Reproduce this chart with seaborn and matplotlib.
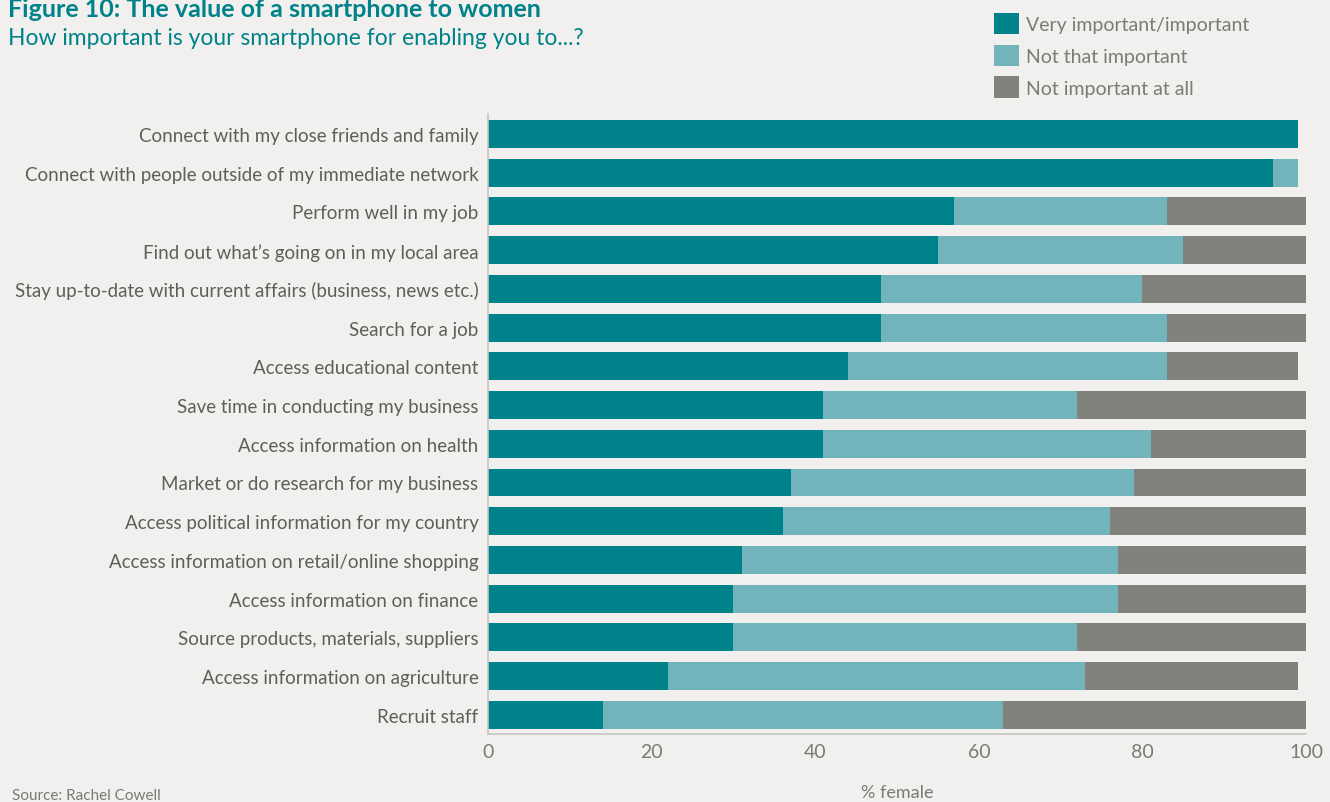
import matplotlib.pyplot as plt
import seaborn as sns
import pandas as pd
from matplotlib.patches import Patch

sns.set_theme(style="white")
plt.rcParams['font.family'] = ['Lato', 'DejaVu Sans']

# Data (percent of women)
categories = [
    "Connect with my close friends and family",
    "Connect with people outside of my immediate network",
    "Perform well in my job",
    "Find out what\u2019s going on in my local area",
    "Stay up-to-date with current affairs (business, news etc.)",
    "Search for a job",
    "Access educational content",
    "Save time in conducting my business",
    "Access information on health",
    "Market or do research for my business",
    "Access political information for my country",
    "Access information on retail/online shopping",
    "Access information on finance",
    "Source products, materials, suppliers",
    "Access information on agriculture",
    "Recruit staff",
]
very_important = [99, 96, 57, 55, 48, 48, 44, 41, 41, 37, 36, 31, 30, 30, 22, 14]
not_that_important = [0, 3, 26, 30, 32, 35, 39, 31, 40, 42, 40, 46, 47, 42, 51, 49]
not_important_at_all = [0, 0, 17, 15, 20, 17, 16, 28, 19, 21, 24, 23, 23, 28, 26, 37]

series_names = ["Very important/important", "Not that important", "Not important at all"]
colors = ["#00828A", "#72B4BC", "#81827C"]
BG = "#F1F0EE"
TEXT = "#5E5E5A"

df = pd.DataFrame({
    "Activity": categories,
    "v": very_important,
    "n": not_that_important,
    "a": not_important_at_all,
})
df["cum_v"] = df["v"]
df["cum_n"] = df["v"] + df["n"]
df["cum_a"] = df["v"] + df["n"] + df["a"]

fig = plt.figure(figsize=(13.3, 8.03), dpi=100, facecolor=BG)
ax = fig.add_axes([0.367, 0.085, 0.615, 0.772])
ax.set_facecolor(BG)

# stacked bars drawn back to front
for col, c in zip(["cum_a", "cum_n", "cum_v"], colors[::-1]):
    sns.barplot(data=df, x=col, y="Activity", orient="h", color=c,
                width=0.72, ax=ax, saturation=1, linewidth=0)

ax.set_xlim(0, 100)
ax.set_ylim(15.49, -0.52)
ax.set_xticks([0, 20, 40, 60, 80, 100])
ax.tick_params(axis='x', length=0, pad=7, labelsize=14, labelcolor="#7A7A76")
ax.tick_params(axis='y', length=0, pad=7, labelsize=13.5, labelcolor=TEXT)
ax.set_ylabel("")
ax.set_xlabel("% female", fontsize=13, color="#7A7A76", labelpad=17)

for s in ["top", "right"]:
    ax.spines[s].set_visible(False)
for s in ["left", "bottom"]:
    ax.spines[s].set_color("#C4C4C0")
    ax.spines[s].set_linewidth(1.2)

fig.text(0.006, 0.979, "Figure 10: The value of a smartphone to women",
         fontsize=18, fontweight='bold', color="#00828A", va='baseline')
fig.text(0.006, 0.944, "How important is your smartphone for enabling you to...?",
         fontsize=16.5, color="#00828A", va='baseline')
fig.text(0.009, 0.004, "Source: Rachel Cowell", fontsize=11, color="#7A7A76",
         va='baseline')

handles = [Patch(facecolor=c, edgecolor='none') for c in colors]
fig.legend(handles, series_names, loc='upper left', bbox_to_anchor=(0.737, 1.0),
           frameon=False, fontsize=14, labelcolor="#7A7A76", handlelength=1.3,
           handleheight=1.3, handletextpad=0.35, labelspacing=0.55,
           borderaxespad=0.3)

fig.savefig("out.png", dpi=100, facecolor=BG)
